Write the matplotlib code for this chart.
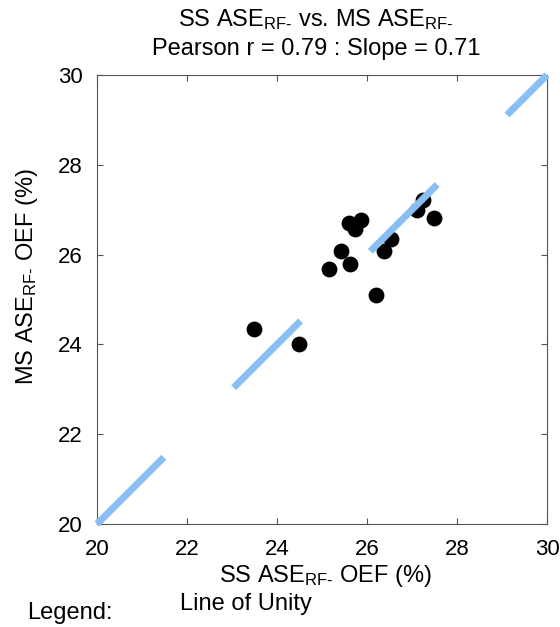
import numpy as np
import matplotlib
matplotlib.use('Agg')
from matplotlib import pyplot as plt

matplotlib.rcParams.update({
  'font.family': 'Liberation Sans',
  'mathtext.fontset': 'custom',
  'mathtext.rm': 'Liberation Sans',
  'mathtext.it': 'Liberation Sans',
  'mathtext.bf': 'Liberation Sans',
})

# SS vs MS OEF values (%)
ss_oef = [23.49, 24.48, 25.16, 25.42, 25.63, 25.61, 25.87, 25.74, 26.21, 26.37, 26.54, 27.10, 27.25, 27.49]
ms_oef = [24.35, 24.02, 25.69, 26.07, 25.80, 26.70, 26.78, 26.56, 25.09, 26.07, 26.35, 27.00, 27.22, 26.82]
unity = [20, 30]
ticks = [20, 22, 24, 26, 28, 30]

W, H = 560, 627
fig = plt.figure(figsize=(5.6, 6.27), dpi=100)
ax = fig.add_axes([97/W, 1 - 524/H, 450/W, 449/H])

ax.scatter(ss_oef, ms_oef, s=130, color='black', zorder=2, linewidths=0)
lw = 5
ax.plot(unity, unity, color='#88c0f5', lw=lw, solid_capstyle='butt', dash_capstyle='butt',
        ls=(0, (68/lw, 71/lw)), zorder=3, clip_on=False)

ax.set_xlim(20, 30)
ax.set_ylim(20, 30)
ax.set_xticks(ticks)
ax.set_yticks(ticks)
ax.tick_params(direction='in', length=4, top=True, right=True, labelsize=16, colors='#555555',
               labelcolor='black')
ax.tick_params(axis='x', pad=11)
ax.tick_params(axis='y', pad=10)
for s in ax.spines.values():
  s.set_color('#555555')

sub = r'$_{\mathrm{RF\text{-}}}$'
ax.set_xlabel('SS ASE' + sub + ' OEF (%)', fontsize=17)
ax.set_ylabel('MS ASE' + sub + ' OEF (%)', fontsize=17)
ax.xaxis.set_label_coords((325 - 97)/450, (524 - 563)/449)
ax.yaxis.set_label_coords((40 - 97)/450, (524 - 277)/449)

fig.text(316/W, 1 - 20/H, 'SS ASE' + sub + ' vs. MS ASE' + sub, fontsize=17, ha='center', va='center')
fig.text(316/W, 1 - 49/H, 'Pearson r = 0.79 : Slope = 0.71', fontsize=17, ha='center', va='center')

fig.text(27/W, 1 - 613/H, 'Legend:', fontsize=17, va='center')
fig.text(180/W, 1 - 604/H, 'Line of Unity', fontsize=17, va='center')

plt.savefig('out.png', dpi=100)
